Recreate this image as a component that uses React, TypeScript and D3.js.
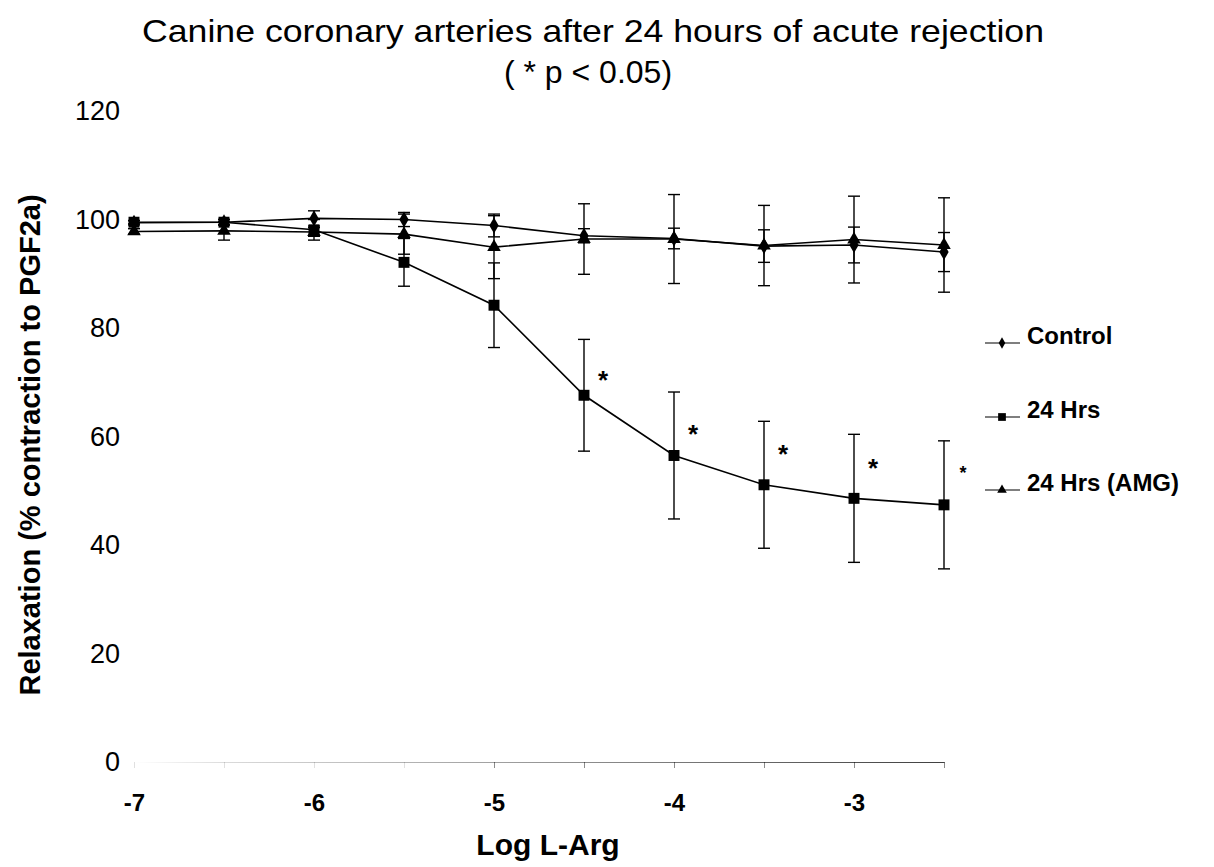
import { useRef, useEffect } from 'react'
import * as d3 from 'd3'

// log concentration of L-Arg
const logDoses = [-7, -6.5, -6, -5.5, -5, -4.5, -4, -3.5, -3, -2.5]

// relaxation (% contraction to PGF2a), mean and SEM per dose
const controlMean = [99.4, 99.5, 100.2, 100.0, 98.9, 97.0, 96.5, 95.1, 95.3, 94.0]
const controlSem = [0.4, 0.5, 1.4, 1.3, 2.1, 1.3, 1.9, 3.0, 3.3, 3.6]
const hrsMean = [99.5, 99.5, 98.1, 92.1, 84.2, 67.6, 56.5, 51.1, 48.6, 47.4]
const hrsSem = [0.3, 0.5, 1.9, 4.4, 7.8, 10.3, 11.7, 11.7, 11.8, 11.8]
const amgMean = [97.8, 97.9, 97.7, 97.3, 94.9, 96.4, 96.4, 95.2, 96.3, 95.3]
const amgSem = [0.5, 1.7, 0.8, 3.7, 5.8, 6.5, 8.2, 7.4, 8.0, 8.7]

// significance marks (* p < 0.05) for the 24 Hrs series
const sigDoses = [-4.5, -4, -3.5, -3, -2.5]
const sigLevels = [71.5, 61.6, 57.8, 55.3, 54.1]

const yTicks = [0, 20, 40, 60, 80, 100, 120]
const xLabels = [-7, -6, -5, -4, -3]

const seriesNames = ['Control', '24 Hrs', '24 Hrs (AMG)']

const W = 1214
const H = 867
const font = "'Liberation Sans', Arial, Helvetica, sans-serif"

export default function App() {
  const svgRef = useRef<SVGSVGElement>(null)

  useEffect(() => {
    const svg = d3.select(svgRef.current)
    svg.selectAll('*').remove()

    const x = d3.scaleLinear().domain([-7, -2.5]).range([134, 944])
    const y = d3.scaleLinear().domain([0, 120]).range([762, 111])

    const series = [
      { name: seriesNames[0], mean: controlMean, sem: controlSem, symbol: d3.symbolDiamond, size: 75 },
      { name: seriesNames[1], mean: hrsMean, sem: hrsSem, symbol: d3.symbolSquare, size: 120 },
      { name: seriesNames[2], mean: amgMean, sem: amgSem, symbol: d3.symbolTriangle, size: 80 },
    ]

    // titles
    svg.append('text')
      .attr('x', 593).attr('y', 42)
      .attr('text-anchor', 'middle')
      .attr('font-family', font).attr('font-size', 32)
      .attr('textLength', 902).attr('lengthAdjust', 'spacingAndGlyphs')
      .text('Canine coronary arteries after 24 hours of acute rejection')

    svg.append('text')
      .attr('x', 588).attr('y', 83)
      .attr('text-anchor', 'middle')
      .attr('font-family', font).attr('font-size', 32)
      .text('( * p < 0.05)')

    // x axis (faded, as in the scan)
    const defs = svg.append('defs')
    const grad = defs.append('linearGradient')
      .attr('id', 'axisFade')
      .attr('gradientUnits', 'userSpaceOnUse')
      .attr('x1', x(-7)).attr('x2', x(-2.5)).attr('y1', 0).attr('y2', 0)
    grad.append('stop').attr('offset', '0%').attr('stop-color', '#000').attr('stop-opacity', 0)
    grad.append('stop').attr('offset', '12%').attr('stop-color', '#000').attr('stop-opacity', 0.15)
    grad.append('stop').attr('offset', '100%').attr('stop-color', '#000').attr('stop-opacity', 0.75)

    const xAxis = d3.axisBottom(x)
      .tickValues(d3.range(-7, -2.4, 0.5))
      .tickSize(6)
      .tickSizeOuter(0)
      .tickPadding(26)
      .tickFormat((d) => (xLabels.includes(+d) ? String(d) : ''))

    const gx = svg.append('g').attr('transform', `translate(0,${y(0)})`).call(xAxis)
    gx.select('.domain').attr('stroke', 'url(#axisFade)').attr('stroke-width', 1.2)
    gx.selectAll('.tick line')
      .attr('stroke', '#000')
      .attr('stroke-opacity', (d: any) => (d < -5 ? 0.12 : 0.45))
    gx.selectAll('.tick text')
      .attr('font-family', font).attr('font-size', 24).attr('font-weight', 'bold')
      .attr('fill', '#000')

    // y axis: labels only
    const yAxis = d3.axisLeft(y).tickValues(yTicks).tickSize(0).tickPadding(0)
    const gy = svg.append('g').attr('transform', 'translate(120,0)').call(yAxis)
    gy.select('.domain').remove()
    gy.selectAll('.tick text')
      .attr('font-family', font).attr('font-size', 27)
      .attr('fill', '#000')

    // axis titles
    svg.append('text')
      .attr('transform', 'translate(40,445) rotate(-90)')
      .attr('text-anchor', 'middle')
      .attr('font-family', font).attr('font-size', 29).attr('font-weight', 'bold')
      .text('Relaxation (% contraction to PGF2a)')

    svg.append('text')
      .attr('x', 548).attr('y', 855)
      .attr('text-anchor', 'middle')
      .attr('font-family', font).attr('font-size', 30).attr('font-weight', 'bold')
      .text('Log L-Arg')

    const line = d3.line<number>()
      .x((_, i) => x(logDoses[i]))
      .y((v) => y(v))

    const cap = 6

    series.forEach((s) => {
      const g = svg.append('g')

      // error bars
      const eb = g.selectAll('.eb')
        .data(s.mean)
        .join('g')
        .attr('class', 'eb')
        .attr('stroke', '#000')
        .attr('stroke-width', 1.4)
      eb.append('line')
        .attr('x1', (_, i) => x(logDoses[i])).attr('x2', (_, i) => x(logDoses[i]))
        .attr('y1', (v, i) => y(v + s.sem[i])).attr('y2', (v, i) => y(v - s.sem[i]))
      eb.append('line')
        .attr('x1', (_, i) => x(logDoses[i]) - cap).attr('x2', (_, i) => x(logDoses[i]) + cap)
        .attr('y1', (v, i) => y(v + s.sem[i])).attr('y2', (v, i) => y(v + s.sem[i]))
      eb.append('line')
        .attr('x1', (_, i) => x(logDoses[i]) - cap).attr('x2', (_, i) => x(logDoses[i]) + cap)
        .attr('y1', (v, i) => y(v - s.sem[i])).attr('y2', (v, i) => y(v - s.sem[i]))

      g.append('path')
        .datum(s.mean)
        .attr('d', line)
        .attr('fill', 'none')
        .attr('stroke', '#000')
        .attr('stroke-width', 1.6)

      g.selectAll('.pt')
        .data(s.mean)
        .join('path')
        .attr('class', 'pt')
        .attr('d', d3.symbol().type(s.symbol).size(s.size))
        .attr('transform', (v, i) => `translate(${x(logDoses[i])},${y(v)})`)
        .attr('fill', '#000')
    })

    // significance asterisks
    svg.selectAll('.sig')
      .data(sigLevels)
      .join('text')
      .attr('class', 'sig')
      .attr('x', (_, i) => x(sigDoses[i]) + 19)
      .attr('y', (v, i) => y(v) + (i === sigLevels.length - 1 ? 10 : 15))
      .attr('text-anchor', 'middle')
      .attr('font-family', font)
      .attr('font-weight', 'bold')
      .attr('font-size', (_, i) => (i === sigLevels.length - 1 ? 18 : 26))
      .text('*')

    // legend
    const legendY = [343, 417, 490]
    const lg = svg.selectAll('.lg')
      .data(series)
      .join('g')
      .attr('class', 'lg')
      .attr('transform', (_, i) => `translate(985,${legendY[i]})`)
    lg.append('line')
      .attr('x1', 0).attr('x2', 35)
      .attr('stroke', '#000').attr('stroke-width', 1.2)
    lg.append('path')
      .attr('d', (s) => d3.symbol().type(s.symbol).size(s.size * 0.5)())
      .attr('transform', 'translate(17,0)')
      .attr('fill', '#000')
    lg.append('text')
      .attr('x', 42).attr('y', 1)
      .attr('font-family', font).attr('font-size', 24).attr('font-weight', 'bold')
      .text((s) => s.name)
  }, [])

  return (
    <svg
      ref={svgRef}
      width={W}
      height={H}
      style={{ position: 'fixed', left: 0, top: 0, background: '#fff' }}
    />
  )
}
